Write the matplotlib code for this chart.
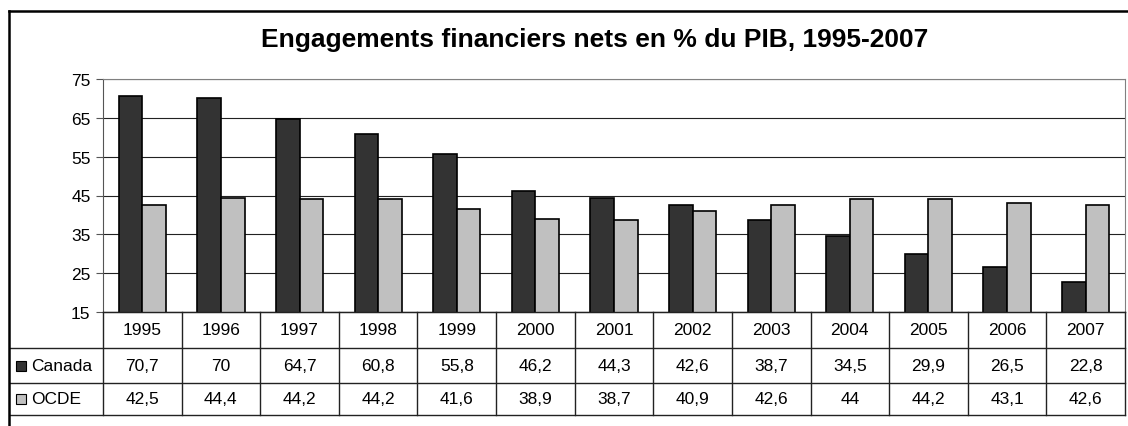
import numpy as np
import matplotlib.pyplot as plt
from matplotlib.patches import Rectangle
from matplotlib.lines import Line2D

plt.rcParams['font.family'] = ['Liberation Sans', 'DejaVu Sans']

# data
years = ['1995', '1996', '1997', '1998', '1999', '2000', '2001',
         '2002', '2003', '2004', '2005', '2006', '2007']
canada = [70.7, 70, 64.7, 60.8, 55.8, 46.2, 44.3, 42.6, 38.7, 34.5, 29.9, 26.5, 22.8]
ocde = [42.5, 44.4, 44.2, 44.2, 41.6, 38.9, 38.7, 40.9, 42.6, 44, 44.2, 43.1, 42.6]
canada_lbl = ['70,7', '70', '64,7', '60,8', '55,8', '46,2', '44,3',
              '42,6', '38,7', '34,5', '29,9', '26,5', '22,8']
ocde_lbl = ['42,5', '44,4', '44,2', '44,2', '41,6', '38,9', '38,7',
            '40,9', '42,6', '44', '44,2', '43,1', '42,6']
yticks = [15, 25, 35, 45, 55, 65, 75]

W, H = 1128, 427
fig = plt.figure(figsize=(W / 100, H / 100), dpi=100)

def fx(px):
    return px / W

def fy(py):
    return 1 - py / H

# plot area in pixels: x 103..1125, y 80..313
L, R, T, B = 103, 1125, 80, 313
ax = fig.add_axes([fx(L), fy(B), fx(R - L), (B - T) / H])

x = np.arange(len(years))
w = 0.3
ax.bar(x - w / 2, canada, w, bottom=0, color='#333333', edgecolor='black', linewidth=1.2, zorder=3)
ax.bar(x + w / 2, ocde, w, bottom=0, color='#c0c0c0', edgecolor='black', linewidth=1.2, zorder=3)
ax.set_ylim(15, 75)
ax.set_xlim(-0.5, len(years) - 0.5)
ax.set_yticks(yticks)
ax.set_yticklabels([str(v) for v in yticks], fontsize=12.5)
ax.set_xticks([])
ax.grid(axis='y', color='#222222', linewidth=0.8, zorder=0)
ax.tick_params(axis='y', length=5, width=0.8, color='#555555', pad=4)
for s in ['top', 'right']:
    ax.spines[s].set_color('#808080')
ax.spines['left'].set_color('#555555')
ax.spines['bottom'].set_color('#333333')

# data table under the plot
row_y = [313, 349, 384, 416]
col_px = [L + (R - L) * i / len(years) for i in range(len(years) + 1)]
lines = []
# horizontal lines
lines.append(((L, R), (row_y[0], row_y[0])))
for yy in row_y[1:]:
    lines.append(((10, R), (yy, yy)))
# vertical lines
for cx in col_px:
    lines.append(((cx, cx), (row_y[0], row_y[3])))
for xs, ys in lines:
    fig.add_artist(Line2D([fx(xs[0]), fx(xs[1])], [fy(ys[0]), fy(ys[1])],
                          color='#222222', linewidth=1.0))

for i in range(len(years)):
    cx = (col_px[i] + col_px[i + 1]) / 2
    for j, txt in enumerate([years[i], canada_lbl[i], ocde_lbl[i]]):
        cy = (row_y[j] + row_y[j + 1]) / 2
        fig.text(fx(cx), fy(cy), txt, ha='center', va='center', fontsize=12.5)

# legend keys in table
for j, (name, col) in enumerate([('Canada', '#333333'), ('OCDE', '#c0c0c0')]):
    cy = (row_y[j + 1] + row_y[j + 2]) / 2
    fig.add_artist(Rectangle((fx(16), fy(cy + 5)), fx(10), 10 / H,
                             facecolor=col, edgecolor='black', linewidth=0.8))
    fig.text(fx(31), fy(cy), name, ha='left', va='center', fontsize=12.5)

# outer chart border
fig.add_artist(Line2D([fx(8.5), fx(8.5)], [fy(12), fy(H + 5)], color='black', linewidth=1.8))
fig.add_artist(Line2D([fx(8.5), fx(W + 5)], [fy(12), fy(12)], color='black', linewidth=1.8))

fig.text(fx(595), fy(40), 'Engagements financiers nets en % du PIB, 1995-2007',
         ha='center', va='center', fontsize=19, fontweight='bold')

fig.savefig('out.png', dpi=100)
